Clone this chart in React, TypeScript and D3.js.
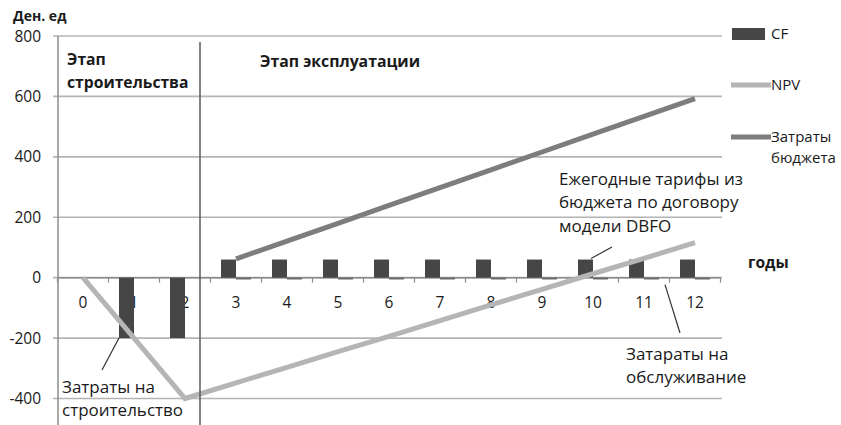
import React, { useEffect, useRef } from "react";
import * as d3 from "d3";

const categories = ["0", "1", "2", "3", "4", "5", "6", "7", "8", "9", "10", "11", "12"];
const cfValues = [0, -200, -200, 60, 60, 60, 60, 60, 60, 60, 60, 60, 60];
const maintenanceValues = [0, 0, 0, -6, -6, -6, -6, -6, -6, -6, -6, -6, -6];
const npvValues = [0, -200, -400, -348, -297, -245, -194, -142, -90, -39, 13, 64, 116];
const budgetValues: (number | null)[] = [null, null, null, 62, 121, 180, 239, 298, 357, 416, 475, 534, 593];
const yTicks = [800, 600, 400, 200, 0, -200, -400];
const legendItems = ["CF", "NPV", "Затраты бюджета"];

const FONT = "'Open Sans', 'Noto Sans', sans-serif";

export default function App() {
  const ref = useRef<SVGSVGElement>(null);

  useEffect(() => {
    const svg = d3.select(ref.current);
    svg.selectAll("*").remove();

    const x = d3.scaleBand<string>().domain(categories).range([57.5, 720.5]);
    const x1 = d3.scaleBand<string>().domain(["cf", "maint"]).range([10.5, 40.5]);
    const y = d3.scaleLinear().domain([-400, 800]).range([398.5, 36]);
    const cx = (c: string) => (x(c) as number) + x.bandwidth() / 2;

    const gridColor = "#b4b4b4";
    const axisColor = "#8c8c8c";

    svg.append("g")
      .selectAll("line")
      .data(yTicks)
      .join("line")
      .attr("x1", 53)
      .attr("x2", 722)
      .attr("y1", (d) => y(d))
      .attr("y2", (d) => y(d))
      .attr("stroke", gridColor)
      .attr("stroke-width", 1.6);

    svg.append("line")
      .attr("x1", 58).attr("x2", 58)
      .attr("y1", y(800)).attr("y2", 425)
      .attr("stroke", axisColor).attr("stroke-width", 1.5);

    svg.append("g")
      .selectAll("text")
      .data(yTicks)
      .join("text")
      .attr("x", 41)
      .attr("y", (d) => y(d))
      .attr("dy", "0.36em")
      .attr("text-anchor", "end")
      .attr("font-family", FONT)
      .attr("font-size", 15.5)
      .attr("fill", "#1a1a1a")
      .text((d) => String(d));

    svg.append("line")
      .attr("x1", 58).attr("x2", 720.5)
      .attr("y1", y(0)).attr("y2", y(0))
      .attr("stroke", axisColor).attr("stroke-width", 1.5);

    const boundaries = categories.map((c) => x(c) as number).concat([x.range()[1]]);
    svg.append("g")
      .selectAll("line")
      .data(boundaries)
      .join("line")
      .attr("x1", (d) => d).attr("x2", (d) => d)
      .attr("y1", y(0)).attr("y2", y(0) + 5)
      .attr("stroke", axisColor).attr("stroke-width", 1.2);

    svg.append("g")
      .selectAll("text")
      .data(categories)
      .join("text")
      .attr("x", (d) => cx(d))
      .attr("y", 302)
      .attr("dy", "0.36em")
      .attr("text-anchor", "middle")
      .attr("font-family", FONT)
      .attr("font-size", 15.5)
      .attr("fill", "#1a1a1a")
      .text((d) => d);

    svg.append("g")
      .selectAll("rect")
      .data(cfValues.map((v, i) => ({ c: categories[i], v })))
      .join("rect")
      .attr("x", (d) => (x(d.c) as number) + (x1("cf") as number))
      .attr("width", x1.bandwidth())
      .attr("y", (d) => y(Math.max(0, d.v)))
      .attr("height", (d) => Math.abs(y(d.v) - y(0)))
      .attr("fill", "#464646");

    svg.append("g")
      .selectAll("rect")
      .data(maintenanceValues.map((v, i) => ({ c: categories[i], v })))
      .join("rect")
      .attr("x", (d) => (x(d.c) as number) + (x1("maint") as number))
      .attr("width", x1.bandwidth())
      .attr("y", (d) => y(Math.max(0, d.v)))
      .attr("height", (d) => Math.abs(y(d.v) - y(0)))
      .attr("fill", "#6a6a6a");

    const line = d3.line<number | null>()
      .defined((d) => d !== null)
      .x((_, i) => cx(categories[i]))
      .y((d) => y(d as number));

    svg.append("path")
      .attr("d", line(budgetValues) as string)
      .attr("fill", "none")
      .attr("stroke", "#7d7d7d")
      .attr("stroke-width", 5);

    svg.append("path")
      .attr("d", line(npvValues) as string)
      .attr("fill", "none")
      .attr("stroke", "#b5b5b5")
      .attr("stroke-width", 5);

    svg.append("line")
      .attr("x1", 200).attr("x2", 200)
      .attr("y1", 42).attr("y2", 425)
      .attr("stroke", "#5a5a5a").attr("stroke-width", 1.5);

    const text = (tx: number, ty: number, s: string, size: number, bold = false) =>
      svg.append("text")
        .attr("x", tx).attr("y", ty)
        .attr("font-family", FONT)
        .attr("font-size", size)
        .attr("font-weight", bold ? 700 : 400)
        .attr("fill", "#1a1a1a")
        .text(s);

    text(13, 21, "Ден. ед", 14, true);
    text(67, 65, "Этап", 15.7, true);
    text(67, 88, "строительства", 15.7, true);
    text(260, 67, "Этап эксплуатации", 15.8, true);
    text(748, 268, "годы", 15.6, true);

    text(559, 185, "Ежегодные тарифы из", 17);
    text(559, 208, "бюджета по договору", 17);
    text(559, 232, "модели DBFO", 17);

    text(626, 360, "Затараты на", 17);
    text(626, 383, "обслуживание", 17);

    text(62, 393, "Затраты на", 17);
    text(62, 416, "строительство", 17);

    const leader = (x1p: number, y1p: number, x2p: number, y2p: number) =>
      svg.append("line")
        .attr("x1", x1p).attr("y1", y1p).attr("x2", x2p).attr("y2", y2p)
        .attr("stroke", "#333").attr("stroke-width", 1.2);

    leader(cx("10") - 2, y(cfValues[10]) - 1, 612, 247);
    leader(cx("11") + 21, y(0) + 7, 680, 333);
    leader(cx("1") - 15, y(cfValues[1]), 102, 370);

    const lg = svg.append("g");
    lg.append("rect").attr("x", 732).attr("y", 28).attr("width", 33).attr("height", 12).attr("fill", "#464646");
    lg.append("line").attr("x1", 731).attr("x2", 771).attr("y1", 85).attr("y2", 85)
      .attr("stroke", "#b5b5b5").attr("stroke-width", 5);
    lg.append("line").attr("x1", 731).attr("x2", 771).attr("y1", 137).attr("y2", 137)
      .attr("stroke", "#7d7d7d").attr("stroke-width", 5);
    const legY = [34, 85, 137];
    legendItems.forEach((name, i) => {
      const words = name.split(" ");
      words.forEach((w, j) => {
        lg.append("text")
          .attr("x", 771)
          .attr("y", legY[i] + j * 21)
          .attr("dy", "0.36em")
          .attr("font-family", FONT)
          .attr("font-size", 15)
          .attr("fill", "#1a1a1a")
          .text(w);
      });
    });
  }, []);

  return (
    <svg
      ref={ref}
      width={841}
      height={425}
      style={{ position: "absolute", left: 0, top: 0, background: "#fff" }}
    />
  );
}
